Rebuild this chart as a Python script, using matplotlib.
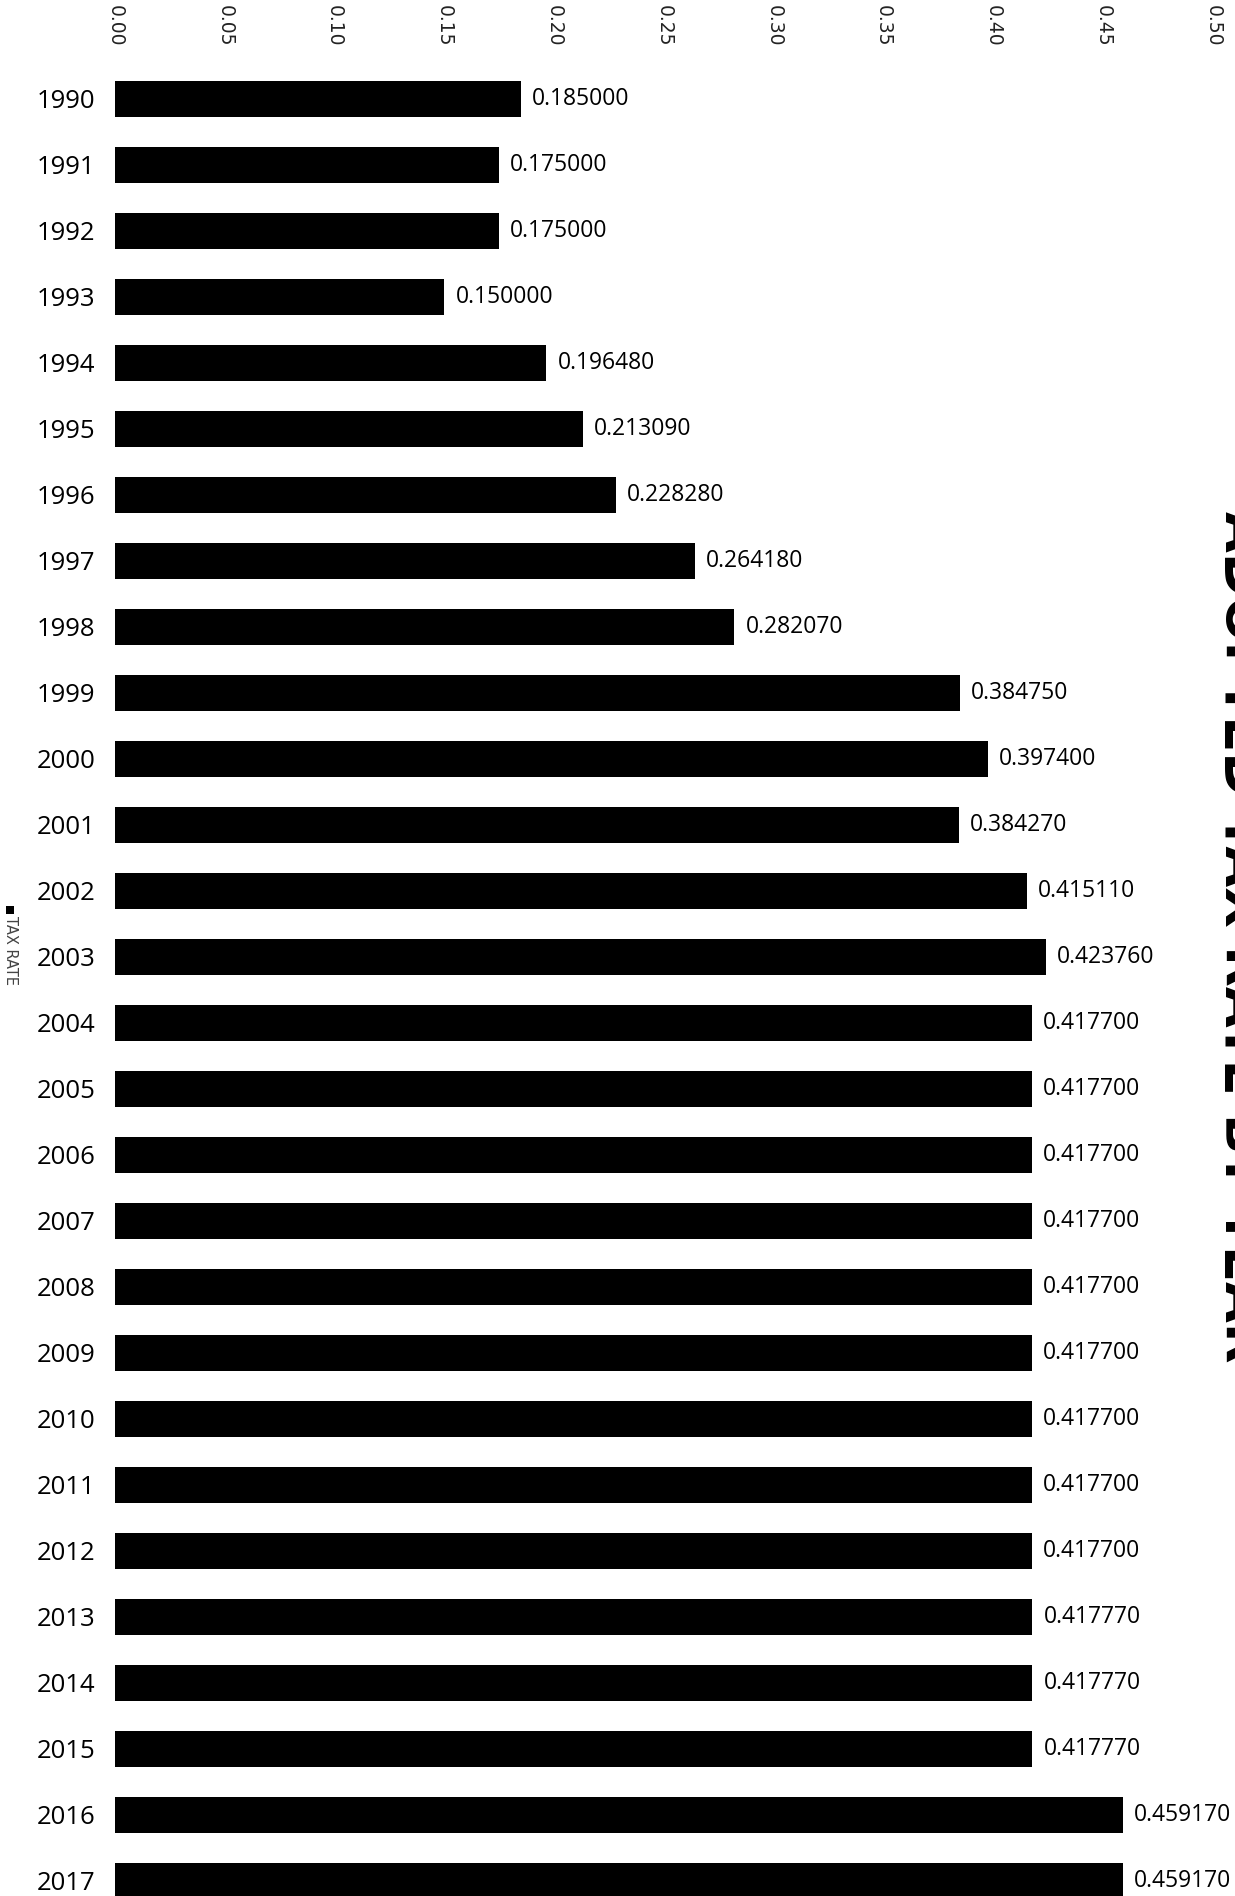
import numpy as np
import matplotlib
matplotlib.use("Agg")
import matplotlib.pyplot as plt
import matplotlib.patches as mpatches

# ---------------------------------------------------------------------------
# Data
# ---------------------------------------------------------------------------
years = [str(y) for y in range(1990, 2018)]
tax_rate = [
    0.185000, 0.175000, 0.175000, 0.150000, 0.196480, 0.213090, 0.228280,
    0.264180, 0.282070, 0.384750, 0.397400, 0.384270, 0.415110, 0.423760,
    0.417700, 0.417700, 0.417700, 0.417700, 0.417700, 0.417700, 0.417700,
    0.417700, 0.417700, 0.417770, 0.417770, 0.417770, 0.459170, 0.459170,
]
x_ticks = [0.00, 0.05, 0.10, 0.15, 0.20, 0.25, 0.30, 0.35, 0.40, 0.45, 0.50]

TITLE = "ADOPTED TAX RATE BY YEAR"
SERIES = "TAX RATE"

# ---------------------------------------------------------------------------
# Figure
# ---------------------------------------------------------------------------
W, H = 1235, 1896
fig = plt.figure(figsize=(W / 100, H / 100), dpi=100)
fig.patch.set_facecolor("white")

ax_left, ax_right, ax_top = 115, 1213, 55
ax = fig.add_axes([ax_left / W, 0, (ax_right - ax_left) / W, (H - ax_top) / H])

pos = np.arange(len(years))
ax.barh(pos, tax_rate, height=0.54, color="black", zorder=2)

for p, v in zip(pos, tax_rate):
    ax.text(v + 0.005, p, f"{v:.6f}", va="center", ha="left",
            fontsize=16.5, family="Open Sans", color="black")

# pixel rows: first bar centre at 99 px, spacing 66 px
ax.set_ylim((H - 99) / 66, (ax_top - 99) / 66)
ax.set_xlim(0, 0.50)

ax.set_yticks(pos)
ax.set_yticklabels(years, fontsize=18.5, family="Open Sans")
ax.tick_params(axis="y", length=0, pad=14)

ax.set_xticks(x_ticks)
ax.set_xticklabels([f"{t:.2f}" for t in x_ticks], fontsize=13.5,
                   family="DejaVu Sans", color="#222222")
ax.xaxis.tick_top()
ax.tick_params(axis="x", length=0, pad=6, labelrotation=-90)

for s in ax.spines.values():
    s.set_visible(False)

# Legend (rotated, on the left edge)
fig.patches.append(mpatches.Rectangle((6 / W, 1 - 914 / H), 8 / W, 8 / H,
                                      transform=fig.transFigure,
                                      facecolor="black", edgecolor="none"))
fig.text(10 / W, 1 - 916 / H, SERIES, rotation=-90, ha="center", va="top",
         fontsize=10.5, color="#444444", family="DejaVu Sans")

# Title, rotated and partly running off the right edge (as in the source)
fig.text(1214 / W, 1 - 937 / H, TITLE, rotation=-90, ha="left", va="center",
         fontsize=38, fontweight="bold", family="DejaVu Sans", color="black")

fig.savefig("out.png", dpi=100)
